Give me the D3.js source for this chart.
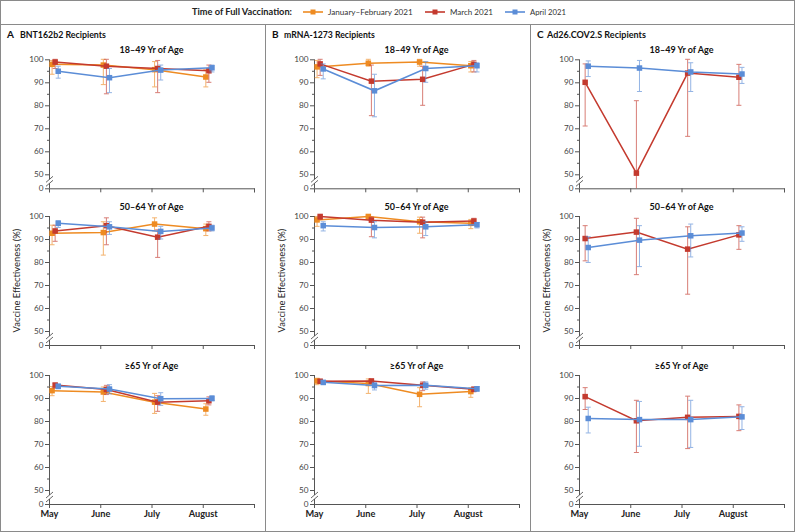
<!DOCTYPE html>
<html><head><meta charset="utf-8">
<script src="https://cdn.jsdelivr.net/npm/d3@7"></script>
<style>
html,body{margin:0;padding:0;background:#fff;}
svg{display:block;font-family:Lato,"Open Sans",sans-serif;}
</style></head>
<body><svg id="c" width="795" height="532"></svg>
<script>
// ---------- DATA ----------
const months = ["May", "June", "July", "August"];
const xTickLabels = ["May", "June", "July", "August", ""];
const seriesNames = ["January–February 2021", "March 2021", "April 2021"];
const panelLetters = ["A", "B", "C"];
const vaccines = ["BNT162b2 Recipients", "mRNA-1273 Recipients", "Ad26.COV2.S Recipients"];
const ageGroups = ["18–49 Yr of Age", "50–64 Yr of Age", "≥65 Yr of Age"];
const yTickValues = [0, 50, 60, 70, 80, 90, 100];
const yMinorTicks = [55, 65, 75, 85, 95];

// Each array: 12 values = age group (18–49, 50–64, ≥65) × month (May, June, July, August)
// BNT162b2
const bntJanFebVE = [97.8, 97.5, 95.5, 92.3,  92.5, 92.8, 96.5, 94.5,  93.2, 92.6, 88.2, 85.2];
const bntJanFebLo = [93.5, 89.0, 88.0, 88.0,  87.5, 83.0, 93.5, 91.5,  91.0, 88.5, 83.3, 82.5];
const bntJanFebHi = [99.5, 100,  99.0, 95.5,  96.0, 97.5, 99.2, 96.5,  95.0, 94.8, 92.0, 87.5];
const bntMarchVE  = [98.8, 97.0, 96.0, 95.0,  93.5, 95.8, 90.8, 95.5,  95.6, 93.7, 88.2, 88.8];
const bntMarchLo  = [96.0, 85.0, 85.5, 90.0,  89.0, 87.5, 82.0, 93.5,  94.3, 91.5, 84.2, 87.0];
const bntMarchHi  = [100,  100,  99.5, 97.5,  96.0, 99.2, 94.0, 97.5,  96.5, 95.5, 91.0, 90.5];
const bntAprilVE  = [94.8, 92.0, 95.3, 96.3,  96.8, 95.3, 93.3, 94.8,  95.1, 93.9, 89.7, 89.8];
const bntAprilLo  = [91.8, 85.5, 91.0, 94.5,  95.0, 92.0, 90.0, 93.5,  94.0, 91.8, 86.8, 88.8];
const bntAprilHi  = [97.0, 96.0, 97.5, 97.5,  98.0, 97.5, 95.5, 96.0,  96.0, 95.8, 92.3, 91.0];
// mRNA-1273
const modJanFebVE = [96.7, 98.3, 98.8, 97.2,  98.3, 99.8, 97.5, 96.8,  97.4, 96.3, 91.6, 92.8];
const modJanFebLo = [92.0, 97.0, 97.0, 94.5,  95.5, 98.5, 92.5, 94.5,  95.8, 92.0, 86.2, 90.3];
const modJanFebHi = [99.5, 100,  100,  99.0,  99.8, 100,  99.5, 98.5,  98.6, 98.3, 94.5, 94.5];
const modMarchVE  = [98.0, 90.5, 91.3, 97.8,  99.8, 98.2, 97.3, 97.8,  97.3, 97.4, 95.5, 93.8];
const modMarchLo  = [93.0, 75.5, 80.0, 94.5,  98.5, 91.0, 90.5, 96.0,  96.5, 96.3, 93.2, 92.7];
const modMarchHi  = [100,  97.5, 97.0, 99.5,  100,  99.5, 99.5, 99.0,  98.0, 98.2, 97.0, 94.7];
const modAprilVE  = [95.8, 86.3, 96.0, 97.2,  95.8, 95.0, 95.3, 96.2,  96.8, 95.4, 95.5, 94.0];
const modAprilLo  = [91.5, 75.0, 90.0, 94.5,  93.5, 90.5, 91.5, 94.8,  95.8, 93.5, 93.8, 92.9];
const modAprilHi  = [98.0, 93.5, 99.0, 98.5,  97.5, 97.5, 97.5, 97.2,  97.6, 96.8, 97.0, 95.0];
// Ad26.COV2.S (no January–February series)
const adMarchVE   = [90.0, 50.5, 94.0, 92.2,  90.2, 93.0, 85.6, 91.8,  90.6, 80.1, 81.6, 82.0];
const adMarchLo   = [71.0, 0,    66.5, 80.0,  80.5, 74.5, 66.0, 85.5,  85.0, 66.3, 68.0, 75.8];
const adMarchHi   = [98.0, 82.0, 100,  97.8,  95.8, 99.0, 95.3, 95.8,  94.5, 89.0, 90.8, 87.0];
const adAprilVE   = [97.0, 96.2, 94.5, 93.6,  86.3, 89.5, 91.4, 92.6,  81.1, 80.6, 80.6, 81.8];
const adAprilLo   = [92.5, 86.0, 86.0, 89.5,  79.8, 78.0, 82.2, 89.0,  74.8, 69.0, 68.5, 76.3];
const adAprilHi   = [99.3, 99.5, 98.5, 96.5,  91.0, 95.8, 96.5, 95.3,  86.0, 88.5, 89.0, 86.2];

// ---------- STYLE / LAYOUT ----------
const colors = ["#EE8B22", "#C43A2E", "#5B8DD7"];
const dxOffset = [0.06, 0.12, 0.18];
const panelX = [49, 314, 579];
const panelLetterX = [7, 272, 537];
const panelTitleX = [20, 284, 547];
const panelTitleW = [86, 91, 99];
const plotW = 205;
const rowY100 = [59.3, 216, 375];
const span100to50 = 115, span50to0 = 14;

const panels = [
  [[bntJanFebVE, bntJanFebLo, bntJanFebHi], [bntMarchVE, bntMarchLo, bntMarchHi], [bntAprilVE, bntAprilLo, bntAprilHi]],
  [[modJanFebVE, modJanFebLo, modJanFebHi], [modMarchVE, modMarchLo, modMarchHi], [modAprilVE, modAprilLo, modAprilHi]],
  [null, [adMarchVE, adMarchLo, adMarchHi], [adAprilVE, adAprilLo, adAprilHi]]
];

// scale a text's font size so its width matches the reference width
function fit(sel, w) {
  const cur = sel.node().getComputedTextLength();
  if (cur > 0) sel.attr("font-size", (+sel.attr("font-size")) * w / cur);
  return sel;
}

const svg = d3.select("#c");
const frame = "#8a8a8a";
const axisCol = "#555";

// frame
svg.append("rect").attr("x", 0.5).attr("y", 0.5).attr("width", 794).attr("height", 531)
  .attr("fill", "none").attr("stroke", frame).attr("stroke-width", 1);
svg.append("line").attr("x1", 0).attr("x2", 795).attr("y1", 24.5).attr("y2", 24.5).attr("stroke", frame);
[265.5, 530.5].forEach(x => svg.append("line").attr("x1", x).attr("x2", x).attr("y1", 24.5).attr("y2", 532).attr("stroke", frame));

// legend
const leg = svg.append("g");
fit(leg.append("text").attr("x", 192).attr("y", 15).attr("font-size", 9.5).attr("font-weight", 700)
  .attr("fill", "#222").text("Time of Full Vaccination:"), 100);
const legX = [303, 425, 505];
const legW = [85, 43, 36];
seriesNames.forEach((n, i) => {
  const g = leg.append("g").attr("transform", `translate(${legX[i]},12)`);
  g.append("line").attr("x1", 0).attr("x2", 20).attr("stroke", colors[i]).attr("stroke-width", 1.6);
  g.append("rect").attr("x", 7.5).attr("y", -2.5).attr("width", 5).attr("height", 5).attr("fill", colors[i]);
  fit(g.append("text").attr("x", 25).attr("y", 3).attr("font-size", 9.5).attr("fill", "#333").text(n), legW[i]);
});

// reference size for subplot titles
const probe = svg.append("text").attr("font-size", 9.5).attr("font-weight", 700).attr("opacity", 0).text(ageGroups[0]);
const titleSize = 9.5 * 64 / Math.max(1, probe.node().getComputedTextLength());
probe.remove();

panels.forEach((series, p) => {
  const px = panelX[p];
  const pg = svg.append("g");
  pg.append("text").attr("x", panelLetterX[p]).attr("y", 38).attr("font-size", 10).attr("font-weight", 700)
    .attr("fill", "#111").text(panelLetters[p]);
  fit(pg.append("text").attr("x", panelTitleX[p]).attr("y", 38).attr("font-size", 9.5).attr("font-weight", 700)
    .attr("fill", "#111").text(vaccines[p]), panelTitleW[p]);

  const x = d3.scaleLinear().domain([0, 4]).range([px, px + plotW]);

  ageGroups.forEach((age, r) => {
    const y100 = rowY100[r], y50 = y100 + span100to50, y0 = y50 + span50to0;
    const y = d3.scaleLinear().domain([0, 50, 100]).range([y0, y50, y100]);
    const g = pg.append("g");

    g.append("text").attr("x", px + plotW / 2).attr("y", y100 - 6.5).attr("text-anchor", "middle")
      .attr("font-size", titleSize).attr("font-weight", 700).attr("fill", "#111").text(age);

    // y axis
    const ya = g.append("g").attr("transform", `translate(${px},0)`)
      .call(d3.axisLeft(y).tickValues(yTickValues).tickSize(4).tickPadding(1.5).tickFormat(d3.format("d")));
    ya.select(".domain").remove();
    ya.selectAll("line").attr("stroke", axisCol);
    ya.selectAll("text").attr("font-size", 8.2).attr("fill", "#444").attr("font-family", "Lato, sans-serif");
    const ym = g.append("g").attr("transform", `translate(${px},0)`)
      .call(d3.axisLeft(y).tickValues(yMinorTicks).tickSize(2).tickFormat(""));
    ym.select(".domain").remove();
    ym.selectAll("line").attr("stroke", axisCol);
    // axis line with break
    const yb = y50 + 7;
    g.append("line").attr("x1", px + 0.5).attr("x2", px + 0.5).attr("y1", y100).attr("y2", yb - 2).attr("stroke", axisCol);
    g.append("line").attr("x1", px + 0.5).attr("x2", px + 0.5).attr("y1", yb + 2).attr("y2", y0).attr("stroke", axisCol);
    [-2, 2].forEach(o => g.append("line").attr("x1", px - 3).attr("x2", px + 4)
      .attr("y1", yb + o + 3).attr("y2", yb + o - 3).attr("stroke", axisCol).attr("stroke-width", 0.9));

    // x axis
    const xa = g.append("g").attr("transform", `translate(0,${y0})`)
      .call(d3.axisBottom(x).tickValues([0, 1, 2, 3, 4]).tickSize(4).tickPadding(2.5)
        .tickFormat(i => r === 2 ? xTickLabels[i] : ""));
    xa.select(".domain").attr("stroke", axisCol);
    xa.selectAll("line").attr("stroke", axisCol);
    xa.selectAll("text").attr("font-size", 9.2).attr("font-weight", 700).attr("fill", "#222")
      .attr("font-family", "Lato, sans-serif");

    if (r === 1) {
      fit(g.append("text").attr("transform", `translate(${px - 29},${(y100 + y0) / 2}) rotate(-90)`)
        .attr("text-anchor", "middle").attr("font-size", 9).attr("fill", "#222").text("Vaccine Effectiveness (%)"), 104);
    }

    series.forEach((s, si) => {
      if (!s) return;
      const [ve, lo, hi] = s;
      const pts = months.map((m, mi) => ({
        m: mi + dxOffset[si], v: ve[r * 4 + mi], lo: lo[r * 4 + mi], hi: hi[r * 4 + mi]
      }));
      const sg = g.append("g");
      const eb = sg.append("g").attr("stroke", colors[si]).attr("stroke-width", 1).attr("opacity", 0.65);
      pts.forEach(d => {
        const cx = x(d.m);
        eb.append("line").attr("x1", cx).attr("x2", cx).attr("y1", y(d.lo)).attr("y2", y(d.hi));
        if (d.lo > 0) eb.append("line").attr("x1", cx - 2.5).attr("x2", cx + 2.5).attr("y1", y(d.lo)).attr("y2", y(d.lo));
        eb.append("line").attr("x1", cx - 2.5).attr("x2", cx + 2.5).attr("y1", y(d.hi)).attr("y2", y(d.hi));
      });
      sg.append("path").datum(pts).attr("fill", "none").attr("stroke", colors[si]).attr("stroke-width", 1.5)
        .attr("d", d3.line().x(d => x(d.m)).y(d => y(d.v)));
      sg.selectAll("rect").data(pts).join("rect")
        .attr("x", d => x(d.m) - 2.75).attr("y", d => y(d.v) - 2.75)
        .attr("width", 5.5).attr("height", 5.5).attr("fill", colors[si]);
    });
  });
});
</script></body></html>
